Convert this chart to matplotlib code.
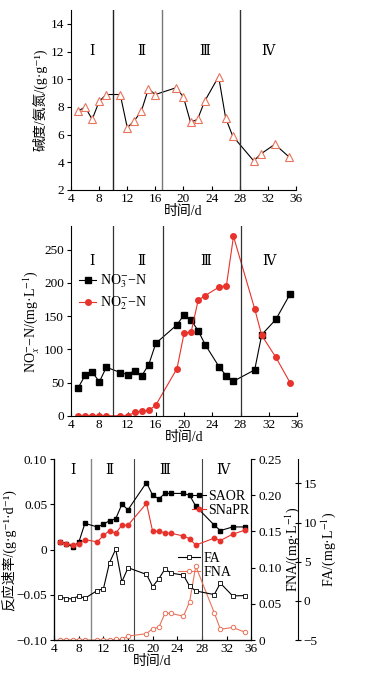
import matplotlib
matplotlib.use("Agg")
import matplotlib.pyplot as plt
from matplotlib.ticker import FuncFormatter

plt.rcParams['font.family'] = ['Liberation Serif', 'Noto Sans CJK SC', 'DejaVu Serif']
plt.rcParams['mathtext.fontset'] = 'stix'
plt.rcParams['font.size'] = 9.5
plt.rcParams['axes.linewidth'] = 0.8

# --- data ---
days = [5, 6, 7, 8, 9, 11, 12, 13, 14, 15, 16, 19, 20, 21, 22, 23, 25, 26, 27, 30, 31, 33, 35]
alk_ratio = [7.7, 8.0, 7.1, 8.4, 8.9, 8.9, 6.5, 7.0, 7.7, 9.3, 8.9, 9.4, 8.7, 6.9, 7.1, 8.4,
             10.2, 7.2, 5.9, 4.1, 4.6, 5.3, 4.4]
no3 = [42, 61, 66, 51, 73, 65, 62, 68, 60, 77, 109, 137, 152, 144, 128, 107, 73, 60, 52,
       69, 122, 145, 183]
no2 = [0, 0, 0, 0, 0, 0, 0, 5, 7, 8, 16, 71, 124, 126, 174, 181, 194, 196, 270, 161, 121, 88, 50]
saor = [0.008, 0.0067, 0.003, 0.008, 0.029, 0.025, 0.028, 0.032, 0.034, 0.050, 0.044, 0.074,
        0.060, 0.056, 0.062, 0.062, 0.062, 0.060, 0.048, 0.027, 0.021, 0.025, 0.025]
snapr = [0.0085, 0.006, 0.0056, 0.006, 0.011, 0.0085, 0.0156, 0.021, 0.018, 0.027, 0.027, 0.051,
         0.020, 0.020, 0.0185, 0.018, 0.015, 0.012, 0.005, 0.0126, 0.010, 0.017, 0.0215]
fa = [0.5, 0.3, 0.26, 0.64, 0.34, 1.33, 1.54, 4.9, 6.6, 2.44, 4.24, 3.38, 1.84, 2.83, 4.07,
      3.55, 3.3, 1.88, 1.28, 0.81, 2.27, 0.64, 0.69]
fna = [0, 0, 0, 0, 0, 0, 0, 0, 0.001, 0.001, 0.0056, 0.009, 0.016, 0.0176, 0.037, 0.037,
       0.033, 0.053, 0.102, 0.038, 0.015, 0.0176, 0.011]
phase_bounds = [10, 17, 28]
phase_names = ["Ⅰ", "Ⅱ", "Ⅲ", "Ⅳ"]

RED = "#e8322c"
SALMON = "#e8735a"
ROMAN_FONT = ['Liberation Serif', 'DejaVu Serif', 'Noto Sans CJK SC']
xticks = list(range(4, 37, 4))

fig = plt.figure(figsize=(3.76, 6.76), dpi=100)


def style_x(ax):
    ax.set_xlim(4, 36)
    ax.set_xticks(xticks)
    ax.tick_params(axis='x', direction='in', length=3, pad=2)
    ax.tick_params(axis='y', direction='out', length=3, pad=2)
    ax.spines['top'].set_visible(False)
    ax.set_xlabel("时间/d", labelpad=0, fontsize=10)


# ---- panel 1: alkalinity / ammonia ----
ax1 = fig.add_axes([0.189, 0.719, 0.598, 0.266])
ax1.spines['right'].set_visible(False)
style_x(ax1)
ax1.plot(days, alk_ratio, color='black', lw=0.8, marker='^', ms=5.5,
         mfc='white', mec=SALMON, mew=0.8)
ax1.set_ylim(2, 15)
ax1.set_yticks(range(2, 15, 2))
for xb, c in zip(phase_bounds, ['#222222', '#777777', '#333333']):
    ax1.axvline(xb, color=c, lw=1.0)
for xp, name in zip([7, 14, 23, 32], phase_names):
    ax1.text(xp, 12, name, ha='center', va='center', fontsize=10, family=ROMAN_FONT)
ax1.set_ylabel("碱度/氨氮/(g·g⁻¹)", labelpad=2, fontsize=10)

# ---- panel 2: NO3 / NO2 ----
ax2 = fig.add_axes([0.189, 0.385, 0.601, 0.280])
ax2.spines['right'].set_visible(False)
style_x(ax2)
ax2.plot(days, no3, color='black', lw=0.8, marker='s', ms=4, label="NO$_3^{-}$−N")
ax2.plot(days, no2, color=RED, lw=0.8, marker='o', ms=4, label="NO$_2^{-}$−N")
ax2.set_ylim(0, 285)
ax2.set_yticks(range(0, 251, 50))
for xb in phase_bounds:
    ax2.axvline(xb, color='#333333', lw=0.9)
for xp, name in zip([7, 14, 23, 32], phase_names):
    ax2.text(xp, 232, name, ha='center', va='center', fontsize=10, family=ROMAN_FONT)
ax2.set_ylabel("NO$_x^{-}$−N/(mg·L$^{-1}$)", labelpad=2, fontsize=10)
ax2.legend(loc='upper left', bbox_to_anchor=(0.0, 0.80), frameon=False,
           handlelength=1.2, handletextpad=0.3, borderaxespad=0.2, labelspacing=0.3,
           fontsize=10)

# ---- panel 3: rates, FNA, FA ----
ax3 = fig.add_axes([0.144, 0.053, 0.524, 0.268])
style_x(ax3)
ax3.set_ylim(-0.10, 0.10)
ax3.set_yticks([-0.10, -0.05, 0, 0.05, 0.10])
ax3.yaxis.set_major_formatter(FuncFormatter(
    lambda v, p: "0" if abs(v) < 1e-9 else f"{v:.2f}".replace("-", "−")))
for xb, c in zip(phase_bounds, ['#888888', '#444444', '#444444']):
    ax3.axvline(xb, color=c, lw=1.0 if c == '#888888' else 0.8)
for xp, name in zip([7, 13, 22, 31.5], phase_names):
    ax3.text(xp, 0.087, name, ha='center', va='center', fontsize=10, family=ROMAN_FONT)
l_saor, = ax3.plot(days, saor, color='black', lw=0.8, marker='s', ms=3.2, label="SAOR")
l_snapr, = ax3.plot(days, snapr, color=RED, lw=0.8, marker='o', ms=3.2, label="SNaPR")
ax3.set_ylabel("反应速率/(g·g⁻¹·d⁻¹)", labelpad=0, fontsize=10)

ax_fna = ax3.twinx()
ax_fna.spines['top'].set_visible(False)
ax_fna.set_ylim(0, 0.25)
ax_fna.set_yticks([0, 0.05, 0.10, 0.15, 0.20, 0.25])
ax_fna.yaxis.set_major_formatter(FuncFormatter(
    lambda v, p: "0" if abs(v) < 1e-9 else f"{v:.2f}"))
ax_fna.tick_params(axis='y', direction='out', length=3, pad=2)
l_fna, = ax_fna.plot(days, fna, color=SALMON, lw=0.8, marker='o', ms=3.2,
                     mfc='white', mec=SALMON, mew=0.7, label="FNA")
ax_fna.set_ylabel("FNA/(mg·L$^{-1}$)", labelpad=1, fontsize=10)

ax_fa = ax3.twinx()
ax_fa.spines['top'].set_visible(False)
ax_fa.spines['right'].set_position(('axes', 1.239))
ax_fa.set_ylim(-5, 18.1)
ax_fa.set_yticks([-5, 0, 5, 10, 15])
ax_fa.yaxis.set_major_formatter(FuncFormatter(
    lambda v, p: f"{v:.0f}".replace("-", "−")))
ax_fa.tick_params(axis='y', direction='inout', length=4, pad=2)
l_fa, = ax_fa.plot(days, fa, color='black', lw=0.8, marker='s', ms=3,
                   mfc='white', mec='black', mew=0.6, label="FA")
ax_fa.set_ylabel("FA/(mg·L$^{-1}$)", labelpad=1, fontsize=10)

leg1 = ax_fa.legend([l_saor, l_snapr], ["SAOR", "SNaPR"], loc='upper right',
                    bbox_to_anchor=(1.02, 0.86), frameon=False, handlelength=1.0,
                    handletextpad=0.2, labelspacing=0.1, fontsize=10, borderaxespad=0)
ax_fa.add_artist(leg1)
ax_fa.legend([l_fa, l_fna], ["FA", "FNA"], loc='upper right',
             bbox_to_anchor=(0.93, 0.52), frameon=False, handlelength=1.6,
             handletextpad=0.3, labelspacing=0.1, fontsize=10, borderaxespad=0)

fig.savefig("out.png", dpi=100)
